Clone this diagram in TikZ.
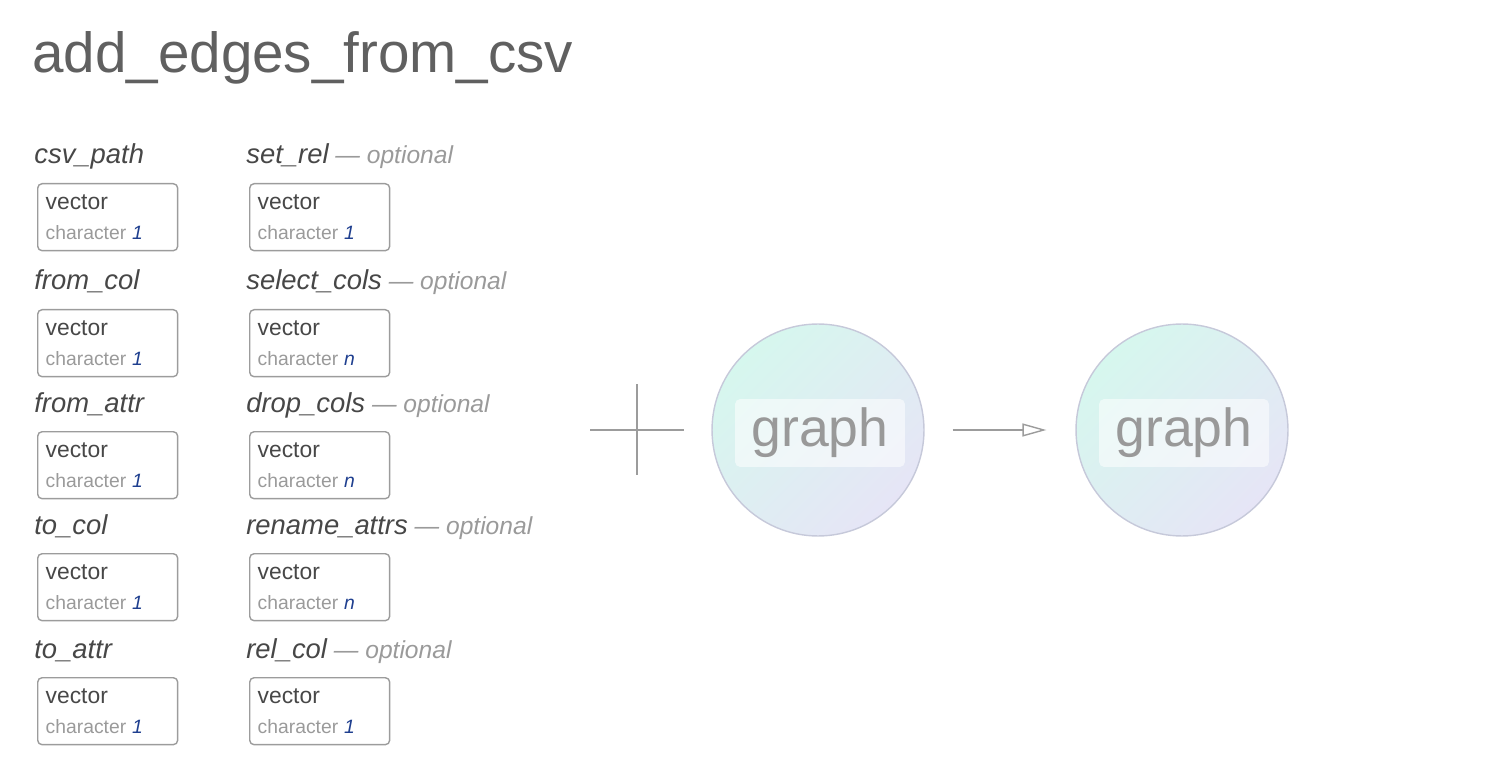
\documentclass[tikz,border=0pt]{standalone}
\usepackage{fontspec}
\setmainfont{Liberation Sans}
\usepackage{tikz}
\usetikzlibrary{arrows.meta}
\definecolor{titlegray}{HTML}{606060}
\definecolor{labelgray}{HTML}{474747}
\definecolor{optgray}{HTML}{9A9A9A}
\definecolor{boxgray}{HTML}{9C9C9C}
\definecolor{chargray}{HTML}{9A9A9A}
\definecolor{numblue}{HTML}{1F3F8F}
\definecolor{mint}{HTML}{D6F7EE}
\definecolor{lavender}{HTML}{E6E5F6}
\definecolor{ringgray}{HTML}{C6C9DA}
\definecolor{graphgray}{HTML}{999999}
\newcommand{\opt}{\textcolor{optgray}{\fontsize{14}{16}\selectfont\ --- optional}}
\newcommand{\chr}[1]{{\fontsize{11}{17}\selectfont\textcolor{chargray}{character}\hspace{0.3em}\textcolor{numblue}{\textit{#1}}}}
\tikzset {
  x=0.02cm, y=-0.02cm,
  % page title
  title/.style = {anchor=base west, inner sep=0pt, text=titlegray, font=\fontsize{32.2}{38}\selectfont},
  % argument names
  argname/.style = {anchor=base west, inner sep=0pt, text=labelgray, font=\fontsize{15.6}{18}\selectfont\itshape},
  % type boxes under the argument names
  typebox/.style = {draw=boxgray, line width=0.8pt, rounded corners=2.5pt, anchor=north west,
    minimum width=2.8cm, minimum height=1.34cm, text width=2.48cm, inner xsep=0.16cm,
    align=left, text=labelgray, font=\fontsize{13}{17}\selectfont},
  % graph objects
  graphobj/.style = {circle, draw=ringgray, line width=0.8pt, minimum size=4.24cm,
    top color=mint, bottom color=lavender, shading angle=45},
  graphlbl/.style = {fill=white, fill opacity=0.55, text opacity=1, rounded corners=3pt,
    minimum width=3.4cm, minimum height=1.36cm, text=graphgray, font=\fontsize{30.5}{36}\selectfont},
  conn/.style = {draw=boxgray, line width=0.8pt, -{Triangle[open, length=0.48cm, width=0.26cm]}},
}
\begin{document}
\begin{tikzpicture}
        \useasboundingbox (0,0) rectangle (1510,780);

        \node[title] (ttl) at (32,73) {add\_edges\_from\_csv};

        \node[argname] (csvpath) at (34,164) {csv\_path};
        \node[typebox] (csvpathbox) at (37,183) {vector\\\chr{1}};

        \node[argname] (fromcol) at (34,290) {from\_col};
        \node[typebox] (fromcolbox) at (37,309) {vector\\\chr{1}};

        \node[argname] (fromattr) at (34,412) {from\_attr};
        \node[typebox] (fromattrbox) at (37,431) {vector\\\chr{1}};

        \node[argname] (tocol) at (34,534) {to\_col};
        \node[typebox] (tocolbox) at (37,553) {vector\\\chr{1}};

        \node[argname] (toattr) at (34,658) {to\_attr};
        \node[typebox] (toattrbox) at (37,677) {vector\\\chr{1}};

        \node[argname] (setrel) at (246,164) {set\_rel\opt};
        \node[typebox] (setrelbox) at (249,183) {vector\\\chr{1}};

        \node[argname] (selcols) at (246,290) {select\_cols\opt};
        \node[typebox] (selcolsbox) at (249,309) {vector\\\chr{n}};

        \node[argname] (dropcols) at (246,412) {drop\_cols\opt};
        \node[typebox] (dropcolsbox) at (249,431) {vector\\\chr{n}};

        \node[argname] (renattrs) at (246,534) {rename\_attrs\opt};
        \node[typebox] (renattrsbox) at (249,553) {vector\\\chr{n}};

        \node[argname] (relcol) at (246,658) {rel\_col\opt};
        \node[typebox] (relcolbox) at (249,677) {vector\\\chr{1}};

        % plus sign
        \draw[boxgray, line width=0.8pt] (590,430) -- (684,430);
        \draw[boxgray, line width=0.8pt] (637,384) -- (637,475);

        \node[graphobj] (gin) at (818,430) {};
        \node[graphlbl] (ginlbl) at (820,433) {graph};
        \node[graphobj] (gout) at (1182,430) {};
        \node[graphlbl] (goutlbl) at (1184,433) {graph};

        \draw[conn, shorten <=0.56cm, shorten >=0.58cm] (gin) -- (gout);

      \end{tikzpicture}
\end{document}
